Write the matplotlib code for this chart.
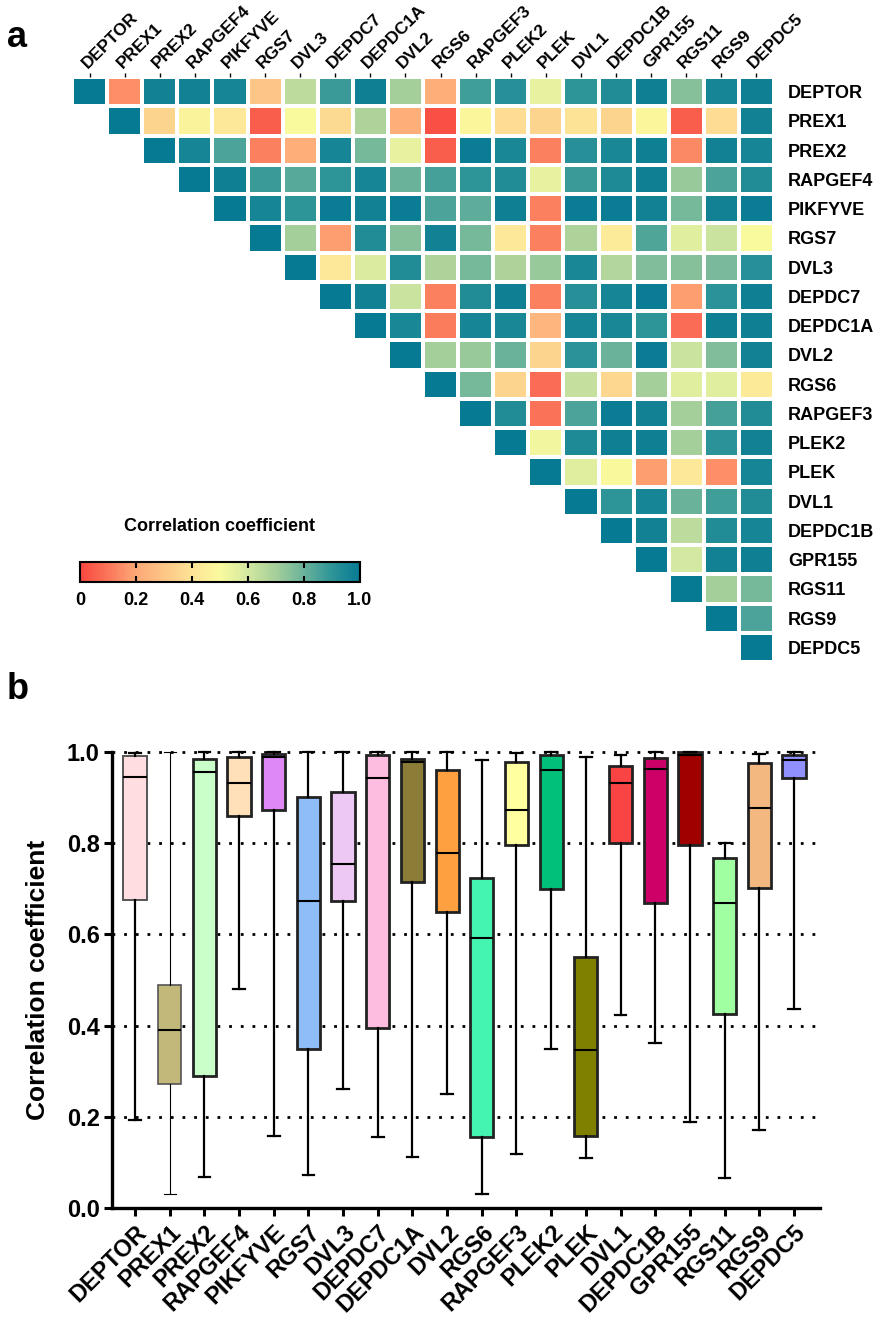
import numpy as np
import matplotlib
matplotlib.use("Agg")
from matplotlib import pyplot as plt
from matplotlib.colors import LinearSegmentedColormap

plt.rcParams['font.family'] = ['Liberation Sans', 'DejaVu Sans']
plt.rcParams['font.weight'] = 'bold'

genes = ["DEPTOR", "PREX1", "PREX2", "RAPGEF4", "PIKFYVE", "RGS7", "DVL3", "DEPDC7",
         "DEPDC1A", "DVL2", "RGS6", "RAPGEF3", "PLEK2", "PLEK", "DVL1", "DEPDC1B",
         "GPR155", "RGS11", "RGS9", "DEPDC5"]

# upper triangle of the correlation matrix, row i holds columns i..19
upper_rows = [
    [1.00, 0.15, 0.97, 0.97, 0.96, 0.30, 0.65, 0.88, 0.98, 0.70, 0.22, 0.87, 0.92, 0.55, 0.90, 0.93, 0.98, 0.75, 0.96, 0.98],
    [1.00, 0.35, 0.47, 0.42, 0.05, 0.50, 0.37, 0.68, 0.22, 0.02, 0.48, 0.38, 0.35, 0.40, 0.35, 0.48, 0.05, 0.38, 0.97],
    [1.00, 0.96, 0.85, 0.12, 0.22, 0.96, 0.78, 0.55, 0.05, 0.99, 0.95, 0.12, 0.92, 0.95, 0.98, 0.14, 0.97, 0.96],
    [1.00, 0.98, 0.88, 0.83, 0.90, 0.96, 0.80, 0.86, 0.90, 0.93, 0.55, 0.88, 0.94, 0.98, 0.72, 0.85, 0.93],
    [1.00, 0.96, 0.90, 0.99, 0.97, 0.99, 0.85, 0.82, 0.98, 0.12, 0.99, 0.99, 0.97, 0.78, 0.97, 0.99],
    [1.00, 0.70, 0.18, 0.93, 0.75, 0.97, 0.78, 0.42, 0.12, 0.68, 0.44, 0.84, 0.57, 0.62, 0.50],
    [1.00, 0.42, 0.58, 0.93, 0.68, 0.78, 0.68, 0.72, 0.95, 0.67, 0.76, 0.75, 0.77, 0.92],
    [1.00, 0.97, 0.62, 0.12, 0.93, 0.98, 0.12, 0.92, 0.96, 0.99, 0.18, 0.91, 0.98],
    [1.00, 0.95, 0.11, 0.96, 0.95, 0.25, 0.96, 0.95, 0.90, 0.08, 0.98, 0.98],
    [1.00, 0.70, 0.72, 0.80, 0.35, 0.91, 0.80, 0.99, 0.62, 0.76, 0.97],
    [1.00, 0.78, 0.35, 0.08, 0.63, 0.36, 0.70, 0.57, 0.57, 0.43],
    [1.00, 0.93, 0.09, 0.85, 0.99, 0.97, 0.70, 0.86, 0.93],
    [1.00, 0.52, 0.94, 0.98, 0.98, 0.70, 0.91, 0.97],
    [1.00, 0.57, 0.49, 0.18, 0.42, 0.15, 0.96],
    [1.00, 0.90, 0.96, 0.80, 0.87, 0.93],
    [1.00, 0.97, 0.65, 0.93, 0.96],
    [1.00, 0.60, 0.97, 0.98],
    [1.00, 0.70, 0.78],
    [1.00, 0.85],
    [1.00],
]

# box plot stats: whisker low, q1, median, q3, whisker high
whislo = [0.192, 0.031, 0.068, 0.481, 0.159, 0.073, 0.261, 0.155, 0.113, 0.249,
          0.031, 0.119, 0.348, 0.109, 0.423, 0.362, 0.189, 0.065, 0.171, 0.437]
q1 = [0.675, 0.273, 0.289, 0.860, 0.873, 0.349, 0.674, 0.394, 0.715, 0.650,
      0.155, 0.795, 0.699, 0.159, 0.800, 0.669, 0.796, 0.426, 0.702, 0.943]
med = [0.945, 0.391, 0.956, 0.933, 0.988, 0.674, 0.754, 0.944, 0.977, 0.778,
       0.593, 0.873, 0.960, 0.346, 0.933, 0.962, 0.993, 0.669, 0.877, 0.982]
q3 = [0.991, 0.488, 0.985, 0.989, 0.996, 0.901, 0.913, 0.993, 0.985, 0.960,
      0.723, 0.977, 0.993, 0.551, 0.970, 0.986, 0.999, 0.767, 0.976, 0.993]
whishi = [0.998, 1.000, 1.000, 0.999, 1.000, 1.000, 1.000, 1.000, 1.000, 1.000,
          0.982, 0.997, 1.000, 0.988, 0.993, 1.000, 1.000, 0.800, 0.995, 0.999]
box_colors = ["#FFDDE1", "#C2B87A", "#C9FFC9", "#FFE0B8", "#DD88F5", "#8EBDF7", "#EDC8F5",
              "#FDBDE0", "#8B7D37", "#FFA040", "#44F5B0", "#FFFFA0", "#00C07A", "#808000",
              "#FA4444", "#CC0066", "#A00000", "#A0FFA0", "#F2B880", "#9090FF"]

n = len(genes)
mat = np.full((n, n), np.nan)
for i, row in enumerate(upper_rows):
    mat[i, i:] = row
mat = np.ma.masked_invalid(mat)

cmap = LinearSegmentedColormap.from_list("corr", [
    (0.0, "#F8463F"), (0.2, "#FDA876"), (0.4, "#FDE396"), (0.5, "#FAFA9E"),
    (0.6, "#D3E8A0"), (0.7, "#A5CF9A"), (0.8, "#6AB29A"), (0.9, "#2E9598"),
    (1.0, "#077A93")])

fig = plt.figure(figsize=(8.76, 13.35), dpi=100)

# ---- panel a: heatmap
ax1 = fig.add_axes([0.0822, 0.5041, 0.8014, 0.4382])
mesh = ax1.pcolormesh(np.arange(n + 1), np.arange(n + 1), mat, cmap=cmap, vmin=0, vmax=1,
                      edgecolors="white", linewidth=1.5)
ax1.set_xlim(0, n)
ax1.set_ylim(n, 0)
for s in ax1.spines.values():
    s.set_visible(False)
ax1.xaxis.tick_top()
ax1.yaxis.tick_right()
ax1.set_xticks(np.arange(n) + 0.5)
ax1.set_xticklabels(genes, rotation=45, ha="left", va="bottom", rotation_mode="anchor",
                    fontsize=12.5, fontweight="bold")
ax1.set_yticks(np.arange(n) + 0.5)
ax1.set_yticklabels(genes, fontsize=13, fontweight="bold")
ax1.tick_params(axis="x", length=3, width=1, pad=1)
ax1.tick_params(axis="y", length=0, pad=10)

cax = fig.add_axes([0.0913, 0.5640, 0.3196, 0.0150])
cb = fig.colorbar(mesh, cax=cax, orientation="horizontal")
cb.set_ticks([0, 0.2, 0.4, 0.6, 0.8, 1.0])
cb.set_ticklabels(["0", "0.2", "0.4", "0.6", "0.8", "1.0"])
cax.tick_params(axis="x", direction="in", length=4, width=1.5, labelsize=13, pad=7,
                top=True, bottom=True)
for lab in cax.get_xticklabels():
    lab.set_fontweight("bold")
cb.outline.set_linewidth(1.5)
cax.set_title("Correlation coefficient", fontsize=13, fontweight="bold", pad=22)

fig.text(0.008, 0.985, "a", fontsize=26, fontweight="bold", va="top")
fig.text(0.008, 0.497, "b", fontsize=26, fontweight="bold", va="top")

# ---- panel b: box plot
ax2 = fig.add_axes([0.128, 0.0951, 0.808, 0.3416])
stats = []
for i in range(n):
    stats.append(dict(whislo=whislo[i], q1=q1[i], med=med[i], q3=q3[i], whishi=whishi[i],
                      label=genes[i]))
for yv in [0.2, 0.4, 0.6, 0.8, 1.0]:
    ax2.axhline(yv, color="black", linestyle=(0, (1, 3.2)), linewidth=2, zorder=0, clip_on=False)
lws = [1.0, 0.8] + [1.6] * (n - 2)
for i in range(n):
    lw = lws[i]
    wlw = 0.8 if i == 1 else 1.6
    ax2.bxp([stats[i]], positions=[i], widths=0.67, patch_artist=True, showfliers=False,
            boxprops=dict(facecolor=box_colors[i], edgecolor="#222222" if i > 1 else "#555555",
                          linewidth=lw + 0.4),
            medianprops=dict(color="black", linewidth=1.5),
            whiskerprops=dict(color="black", linewidth=wlw),
            capprops=dict(color="black", linewidth=wlw),
            manage_ticks=False)
for art in ax2.get_children():
    if hasattr(art, "set_clip_on"):
        art.set_clip_on(False)
ax2.set_xlim(-0.66, 19.75)
ax2.set_ylim(0, 1.0)
ax2.set_xticks(np.arange(n))
ax2.set_xticklabels(genes, rotation=45, ha="right", rotation_mode="anchor",
                    fontsize=17, fontweight="bold")
ax2.set_yticks([0, 0.2, 0.4, 0.6, 0.8, 1.0])
ax2.set_yticklabels(["0.0", "0.2", "0.4", "0.6", "0.8", "1.0"], fontsize=17, fontweight="bold")
ax2.set_ylabel("Correlation coefficient", fontsize=19, fontweight="bold", labelpad=12)
ax2.spines["top"].set_visible(False)
ax2.spines["right"].set_visible(False)
ax2.spines["left"].set_linewidth(2.4)
ax2.spines["bottom"].set_linewidth(2.4)
ax2.tick_params(axis="both", length=6, width=2.2, pad=3)

fig.savefig("out.png", dpi=100)
